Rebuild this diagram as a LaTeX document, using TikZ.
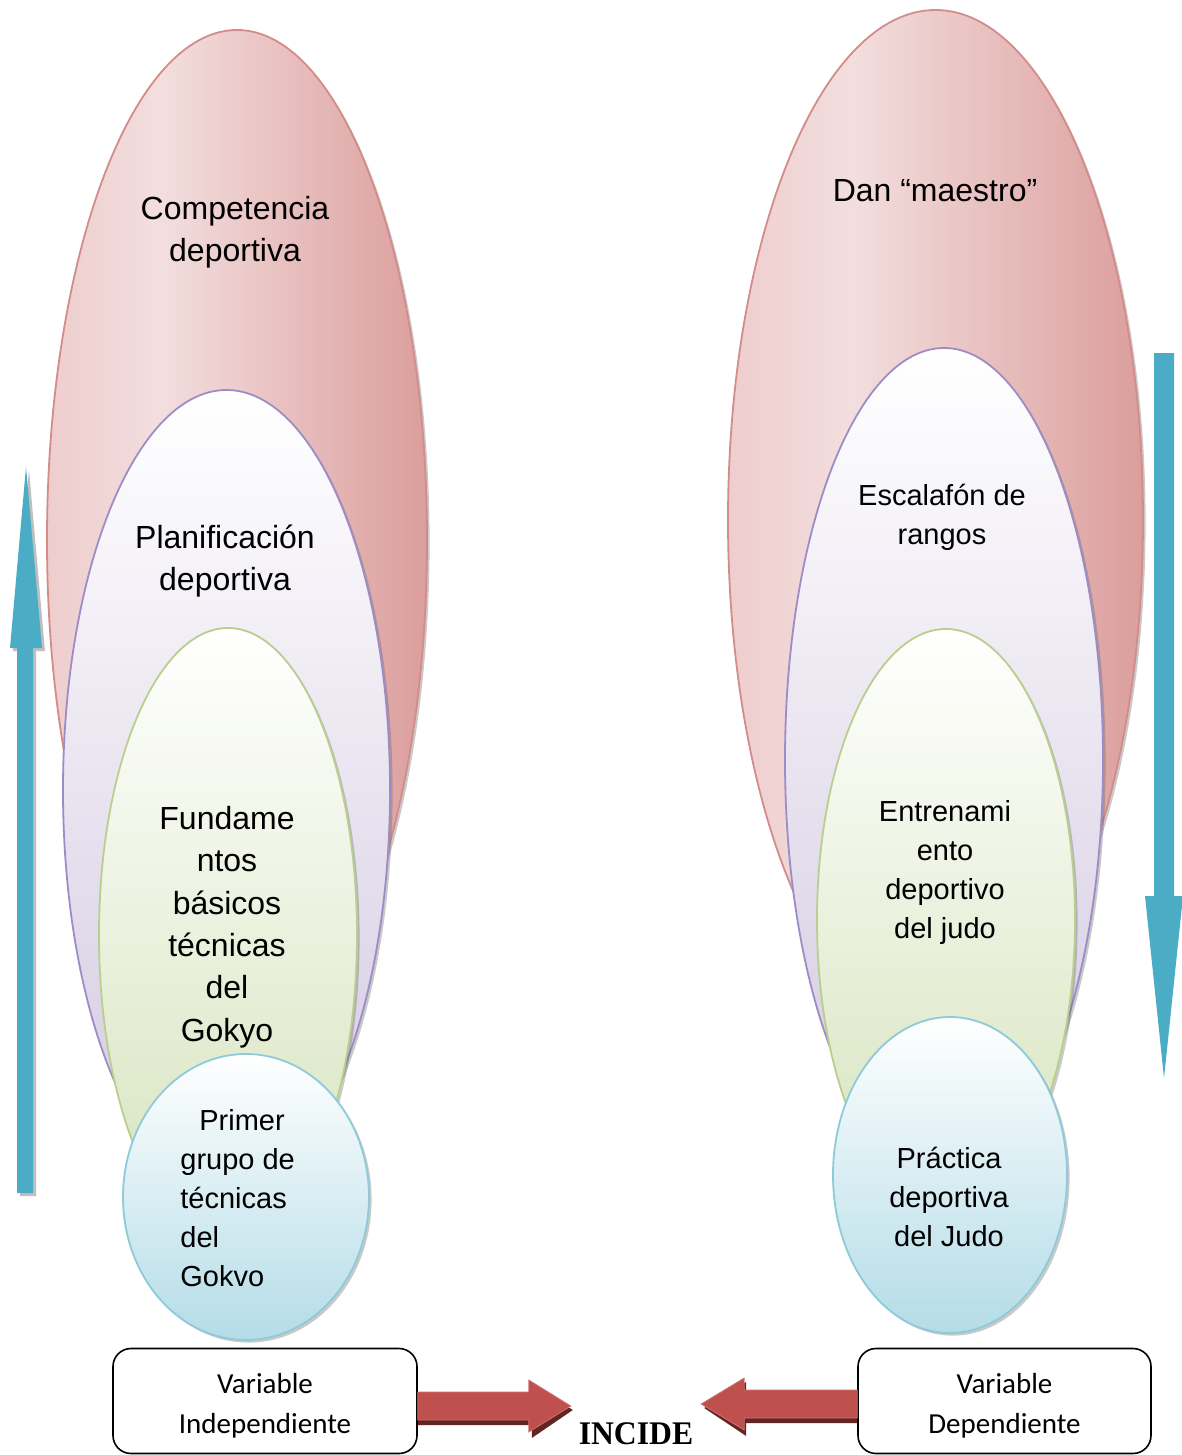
\documentclass[tikz,border=0pt]{standalone}
\usepackage{fontspec}
\usepackage{graphicx}
\setmainfont{Liberation Sans}
\newfontfamily\calibfont{Carlito}
\newfontfamily\timesfont{Liberation Serif}
\usetikzlibrary{shapes.geometric,shadows,calc}
\definecolor{redA}{HTML}{EECDCD}
\definecolor{redB}{HTML}{F3DEDE}
\definecolor{redC}{HTML}{DB9E9C}
\definecolor{redE}{HTML}{D38C8A}
\definecolor{purB}{HTML}{D3C9E1}
\definecolor{purE}{HTML}{9D8CC6}
\definecolor{grnB}{HTML}{D6E3BC}
\definecolor{grnE}{HTML}{B8CF8D}
\definecolor{bluB}{HTML}{B4DCE7}
\definecolor{bluE}{HTML}{8DCADA}
\definecolor{arrBlue}{HTML}{4BACC6}
\definecolor{arrRed}{HTML}{C0504D}
\definecolor{arrRedL}{HTML}{D58381}
\definecolor{arrRedD}{HTML}{632523}
\pgfdeclarehorizontalshading{redsh}{100bp}{color(0bp)=(redA); color(25bp)=(redA); color(40bp)=(redB); color(75bp)=(redC); color(100bp)=(redC)}
\begin{document}
\begin{tikzpicture}[x=0.5pt,y=-0.5pt,
  oval/.style={ellipse, inner sep=0pt, outer sep=0pt, line width=0.9pt,
    drop shadow={shadow xshift=1.3pt, shadow yshift=-1.3pt, opacity=0.35, fill=black!60}},
  redoval/.style={oval, draw=redE, shading=redsh},
  puroval/.style={oval, draw=purE, top color=white, bottom color=purB},
  grnoval/.style={oval, draw=grnE, top color=white, bottom color=grnB},
  bluoval/.style={oval, draw=bluE, top color=white, bottom color=bluB},
  lbl/.style={align=center, inner sep=0pt, font=\fontsize{16}{21.2}\selectfont},
  lbls/.style={align=center, inner sep=0pt, font=\fontsize{14.5}{19.5}\selectfont},
  varbox/.style={draw=black, line width=0.8pt, rounded corners=9pt, fill=white,
    minimum height=52.5pt, inner sep=0pt, align=center,
    font=\calibfont\fontsize{14.5}{20}\selectfont},
  bluearrow/.style={fill=arrBlue},
  blueshadow/.style={fill=black!45, opacity=0.55},
  redarrow/.style={top color=arrRed, middle color=arrRedL, bottom color=arrRed, draw=arrRed!80!white, line width=0.4pt},
  redshadow/.style={fill=arrRedD}
]
\useasboundingbox (0,0) rectangle (1182,1455);
\fill[white] (0,0) rectangle (1182,1455);

% ---------- blue arrows ----------
\fill[blueshadow] (20,1196) -- (20,651) -- (13,651) -- (29,470) -- (45,651) -- (36,651) -- (36,1196) -- cycle;
\fill[bluearrow] (17,1193) -- (17,648) -- (10,648) -- (26,467) -- (42,648) -- (33,648) -- (33,1193) -- cycle;
\fill[bluearrow] (1154,353) -- (1174,353) -- (1174,896) -- (1183,896) -- (1164,1078) -- (1145,896) -- (1154,896) -- cycle;

% ---------- left ovals ----------
\node[redoval, minimum width=190pt, minimum height=510pt] (lred) at (237,540) {};
\node[puroval, minimum width=163.5pt, minimum height=400pt] (lpur) at (226.5,790) {};
\node[grnoval, minimum width=129pt, minimum height=307pt] (lgrn) at (228,935) {};
\node[bluoval, minimum width=123pt, minimum height=143pt] (lblu) at (246,1197) {};

% ---------- right ovals ----------
\node[redoval, minimum width=207.5pt, minimum height=510pt] (rred) at (935.5,520) {};
\node[puroval, minimum width=159pt, minimum height=412pt] (rpur) at (944,760) {};
\node[grnoval, minimum width=129pt, minimum height=291pt] (rgrn) at (946,920) {};
\node[bluoval, minimum width=117pt, minimum height=158pt] (rblu) at (950,1175) {};

% ---------- labels ----------
\node[lbl] (t1) at (235,232) {Competencia\\deportiva};
\node[lbl] (t2) at (225,561) {Planificación\\deportiva};
\node[lbl] (t3) at (227,927) {Fundame\\ntos\\básicos\\técnicas\\del\\Gokyo};
\node[lbls, align=left, anchor=west] (t4) at (180,1198) {\hspace{9.5pt}Primer\\grupo de\\técnicas\\del\\Gokvo};

\node[lbl] (u1) at (935,191) {Dan “maestro”};
\node[lbls] (u2) at (942,517) {Escalafón de\\rangos};
\node[lbls] (u3) at (945,872) {Entrenami\\ento\\deportivo\\del judo};
\node[lbls] (u4) at (949,1197) {Práctica\\deportiva\\del Judo};

% ---------- bottom boxes ----------
\node[varbox, minimum width=152pt] (vi) at (265,1401) {\rule{0pt}{15pt}Variable\\Independiente};
\node[varbox, minimum width=146.5pt] (vd) at (1004.5,1401) {\rule{0pt}{15pt}Variable\\Dependiente};
\node[inner sep=0pt, font=\timesfont\bfseries\fontsize{16.5}{16.5}\selectfont] (inc) at (636,1434) {\scalebox{0.96}[1]{INCIDE}};

% ---------- red block arrows ----------
\coordinate (la) at ($(vi.east)+(0,5)$);
\coordinate (ra) at ($(vd.west)+(0,3)$);
\begin{scope}[shift={(la)}]
  \fill[redshadow] (0,-10) -- (114,-10) -- (114,-22) -- (155,4) -- (114,32) -- (114,19) -- (0,19) -- cycle;
  \path[redarrow] (0,-14) -- (111,-14) -- (111,-26) -- (153,0) -- (111,26) -- (111,14) -- (0,14) -- cycle;
\end{scope}
\begin{scope}[shift={(ra)}]
  \fill[redshadow] (0,-10) -- (-111,-10) -- (-111,-22) -- (-153,4) -- (-111,32) -- (-111,19) -- (0,19) -- cycle;
  \path[redarrow] (0,-14) -- (-113,-14) -- (-113,-26) -- (-156,0) -- (-113,26) -- (-113,14) -- (0,14) -- cycle;
\end{scope}
\end{tikzpicture}
\end{document}
